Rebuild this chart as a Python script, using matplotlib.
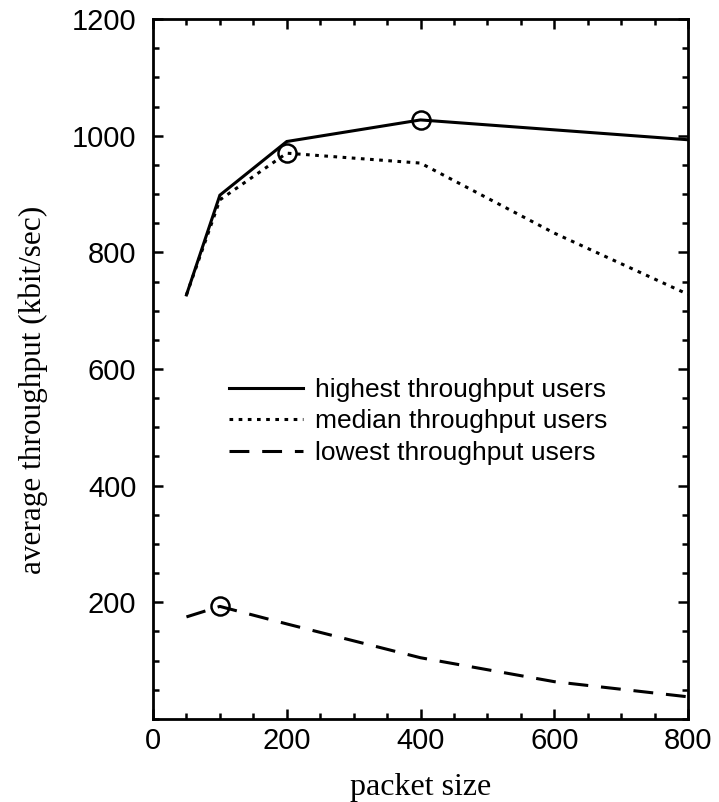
import numpy as np
from matplotlib import pyplot as plt
from matplotlib.ticker import MultipleLocator

# packet sizes and average throughput (kbit/sec) per user group
packet_size = [50, 100, 200, 400, 600, 800]
highest = [727, 898, 990, 1027, 1010, 993]
median = [727, 890, 970, 953, 833, 728]
lowest = [175, 193, 163, 105, 64, 38]

# peak of each curve gets an open circle
peak_highest = (400, 1027)
peak_median = (200, 970)
peak_lowest = (100, 193)

plt.rcParams['font.family'] = 'Liberation Sans'

fig = plt.figure(figsize=(7.19, 8.02), dpi=100)
ax = fig.add_axes([0.2128, 0.1035, 0.7441, 0.8728])

lw = 2.2
ax.plot(packet_size, highest, color='k', lw=lw, solid_joinstyle='miter',
        label='highest throughput users')
ax.plot(packet_size, median, color='k', lw=lw, linestyle=(0, (1.2, 1.8)),
        label='median throughput users')
ax.plot(packet_size, lowest, color='k', lw=lw, linestyle=(0, (6.5, 4.2)),
        label='lowest throughput users')

for px, py in [peak_highest, peak_median, peak_lowest]:
    ax.plot(px, py, marker='o', ms=13, mfc='none', mec='k', mew=1.8)

ax.set_xlim(0, 800)
ax.set_ylim(0, 1200)
ax.xaxis.set_major_locator(MultipleLocator(200))
ax.xaxis.set_minor_locator(MultipleLocator(50))
ax.yaxis.set_major_locator(MultipleLocator(200))
ax.yaxis.set_minor_locator(MultipleLocator(50))
ax.set_yticks([200, 400, 600, 800, 1000, 1200])

for s in ax.spines.values():
    s.set_linewidth(2.0)
ax.tick_params(which='both', direction='in', top=True, right=True,
               width=1.8, labelsize=21)
ax.tick_params(which='major', length=7)
ax.tick_params(which='minor', length=4.5)
ax.tick_params(axis='y', which='major', pad=12)
ax.tick_params(axis='x', which='major', pad=6)

ax.set_xlabel('packet size', family='Liberation Serif', fontsize=23, labelpad=13)
ax.set_ylabel('average throughput (kbit/sec)', family='Liberation Serif',
              fontsize=22.5)
ax.yaxis.set_label_coords(-0.197, 0.47)

ax.legend(loc='upper left', bbox_to_anchor=(0.142, 0.487), frameon=False,
          fontsize=19, handlelength=2.8, handletextpad=0.45,
          labelspacing=0.28, borderpad=0, borderaxespad=0)

fig.savefig('out.png', dpi=100)
